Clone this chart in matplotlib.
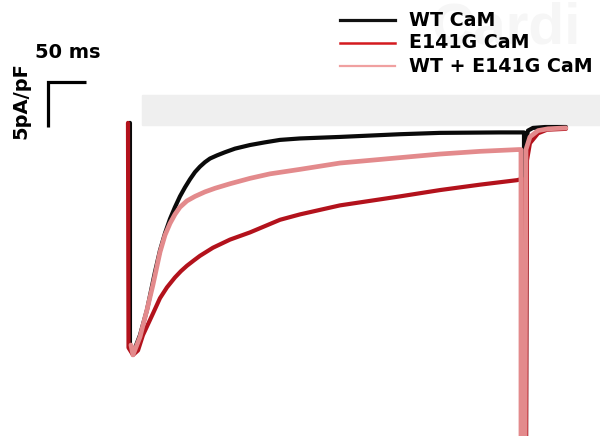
import matplotlib
matplotlib.use("Agg")
import matplotlib.pyplot as plt
from matplotlib.lines import Line2D
from matplotlib.patches import Rectangle

plt.rcParams['font.family'] = ['DejaVu Sans']

# traces: time (ms) and current density (pA/pF)
t_wt = [2.6, 2.6, 6.6, 15.8, 25.0, 35.5, 42.1, 48.7, 55.3, 61.8, 68.4, 75.0, 81.6,
        88.2, 94.7, 101.3, 107.9, 117.1, 127.6, 140.8, 160.5, 180.3, 200.0, 226.3,
        278.9, 357.9, 410.5, 489.5, 517.1,
        521.1, 521.1, 523.7, 524.3, 526.3, 532.9, 548.7, 576.3]
i_wt = [0.56, -24.1, -25.0, -23.0, -20.2, -16.0, -13.6, -11.7, -10.1, -8.8, -7.6, -6.6, -5.7,
        -4.9, -4.3, -3.8, -3.4, -3.05, -2.7, -2.3, -1.9, -1.6, -1.33, -1.17,
        -1.0, -0.7, -0.55, -0.5, -0.5,
        -0.5, -38.0, -38.0, -1.3, -0.3, 0.0, 0.1, 0.1]

t_mut = [0.0, 0.7, 6.6, 13.2, 19.7, 32.9, 42.1, 51.3, 61.8, 69.7, 77.6, 86.8, 94.7, 111.8,
         134.2, 160.5, 200.0, 226.3, 278.9, 357.9, 410.5, 463.2, 511.8, 517.1,
         519.7, 519.7, 523.7, 525.0, 528.9, 539.5, 551.3, 576.3]
i_mut = [0.56, -24.4, -25.2, -24.7, -23.0, -20.6, -18.9, -17.7, -16.6, -15.9, -15.3, -14.7, -14.2,
         -13.3, -12.4, -11.6, -10.2, -9.6, -8.6, -7.6, -6.9, -6.3, -5.8, -5.7,
         -5.7, -38.0, -38.0, -3.6, -1.7, -0.6, -0.2, -0.1]

t_mix = [3.9, 6.6, 15.8, 25.0, 32.9, 42.1, 48.7, 55.3, 61.8, 68.4, 77.6, 88.2, 101.3, 114.5,
         134.2, 160.5, 186.8, 226.3, 278.9, 357.9, 410.5, 463.2, 514.5, 517.1,
         517.1, 522.4, 523.7, 528.9, 539.5, 552.6, 576.3]
i_mix = [-24.1, -25.2, -23.2, -20.2, -17.4, -13.8, -11.9, -10.6, -9.6, -8.8, -8.1, -7.6, -7.1, -6.7,
         -6.2, -5.6, -5.1, -4.6, -3.9, -3.3, -2.9, -2.6, -2.4, -2.4,
         -38.0, -38.0, -2.4, -1.0, -0.3, -0.1, 0.0]

labels = ["WT CaM", "E141G CaM", "WT + E141G CaM"]

fig = plt.figure(figsize=(6, 4.36), dpi=100)
ax = fig.add_axes([0, 0, 1, 1])
ax.set_xlim(-168.4, 621.1)
ax.set_ylim(-34.2, 14.2)
ax.axis('off')

def px(x, y):
    return x / 600, 1 - y / 436

# light grey band and faint watermark behind the traces
x0, y0 = px(142, 125)
fig.add_artist(Rectangle((x0, y0), 1 - x0, 30 / 436, transform=fig.transFigure,
                         color='#efefef', zorder=0))
fig.text(*px(432, 28), "Cardi", color='#f6f6f6', fontsize=42, fontweight='bold',
         family='Liberation Sans', va='center', ha='left', zorder=0)

ax.plot(t_wt, i_wt, color='#0a0a0a', lw=3.0, solid_capstyle='round', zorder=2)
ax.plot(t_mut, i_mut, color='#b3121c', lw=3.0, solid_capstyle='round', zorder=3)
ax.plot(t_mix, i_mix, color='#e38a8c', lw=3.4, solid_capstyle='round', zorder=4)

# scale bar: 50 ms, 5 pA/pF
sx, sy = -105.3, 5.1
ax.plot([sx + 50, sx, sx], [sy, sy, sy - 5], color='black', lw=2.3,
        solid_joinstyle='miter', solid_capstyle='butt')
fig.text(*px(35, 52), "50 ms", fontsize=14, fontweight='bold', va='center', ha='left')
fig.text(*px(21, 101), "5pA/pF", fontsize=14, fontweight='bold', va='center',
         ha='center', rotation=90)

# legend
leg_colors = ['#111111', '#d41a1f', '#f0a0a0']
leg_lw = [2.3, 1.8, 1.6]
for k, lab in enumerate(labels):
    yy = 20 + 23 * k
    xa, ya = px(340, yy)
    xb, _ = px(395, yy)
    fig.add_artist(Line2D([xa, xb], [ya, ya], color=leg_colors[k], lw=leg_lw[k],
                          transform=fig.transFigure))
    fig.text(*px(409, yy), lab, fontsize=13.7, fontweight='bold', va='center', ha='left')

fig.savefig("out.png", dpi=100)
